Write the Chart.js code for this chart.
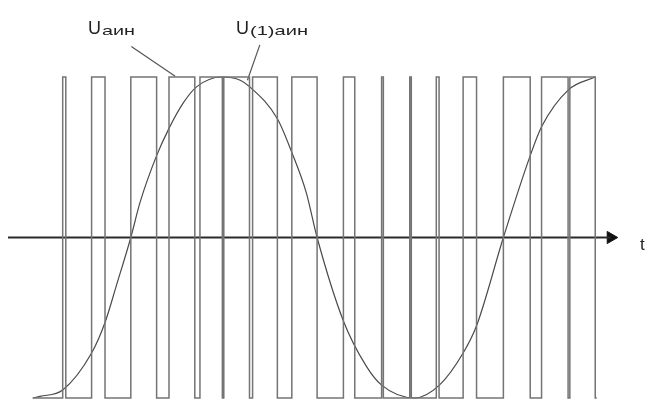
<!DOCTYPE html>
<html>
<head>
    <title>PWM voltage</title>
    <script src="https://cdn.jsdelivr.net/npm/chart.js@4.4.1/dist/chart.umd.min.js"></script>
    <style>
        body { margin: 0; background: #fff; }
    </style>
</head>
<body>
<canvas id="pwmChart" width="646" height="399"></canvas>

<script>
    // x values are phase angle in degrees, y values are relative voltage
    const pwmEdges = [-95, -66, -63, -38, -25, 0, 25, 37, 62, 67, 88.7, 90.1, 115, 118, 142, 156, 180.5,
        206, 217, 243, 244.7, 270.3, 271.8, 296, 298.7, 322, 335, 361, 387, 398, 423.7, 425.4, 450, 451.5];
    const pwmLevels = [-1, 1, -1, 1, -1, 1, -1, 1, -1, 1, -1, 1, -1, 1, -1, 1, -1,
        1, -1, 1, -1, 1, -1, 1, -1, 1, -1, 1, -1, 1, -1, 1, -1, -1];

    const sineAngles = [-95, -88, -66, -38, -25, -14, 0, 9, 25, 37, 51, 64, 88, 106, 115, 142, 156, 170, 180.5,
        206, 228, 243, 275, 299, 322, 335, 361, 387, 398, 424, 450];
    const sineValues = [-1, -0.99, -0.95, -0.72, -0.53, -0.3, 0, 0.22, 0.51, 0.68, 0.84, 0.94, 1, 0.98, 0.94, 0.74, 0.53, 0.28, 0,
        -0.52, -0.8, -0.92, -1, -0.92, -0.72, -0.55, 0, 0.51, 0.69, 0.92, 1];

    const axisAngles = [-119, 465];
    const arrowAngle = 465;

    // pointer lines from the labels to the curves
    const leaderPwmX = [0.5, 43];
    const leaderPwmY = [1.19, 1.005];
    const leaderSineX = [125, 113];
    const leaderSineY = [1.2, 0.98];

    const toPoints = (xs, ys) => xs.map((x, i) => ({x: x, y: ys[i]}));

    const labelPlugin = {
        id: 'labels',
        afterDatasetsDraw(chart) {
            const ctx = chart.ctx;
            ctx.save();
            ctx.fillStyle = '#222';
            ctx.textBaseline = 'alphabetic';

            // main letter, then a wide subscript stretched to the given width
            function subLabel(x, y, main, sub, subWidth) {
                ctx.font = '18px "Liberation Sans", Arial, sans-serif';
                ctx.fillText(main, x, y);
                const w = ctx.measureText(main).width;
                ctx.font = '13px "Liberation Sans", Arial, sans-serif';
                const sw = ctx.measureText(sub).width;
                ctx.save();
                ctx.translate(x + w + 1, y + 1);
                ctx.scale(subWidth / sw, 1);
                ctx.fillText(sub, 0, 0);
                ctx.restore();
            }

            subLabel(88, 34, 'U', 'аин', 33);
            subLabel(236, 34, 'U', '(1)аин', 58);

            ctx.font = '17px "Liberation Sans", Arial, sans-serif';
            ctx.fillText('t', 640, 250);
            ctx.restore();
        }
    };

    const ctx = document.getElementById('pwmChart').getContext('2d');
    const pwmChart = new Chart(ctx, {
        type: 'line',
        data: {
            datasets: [
                {
                    label: 'Uаин',
                    data: toPoints(pwmEdges, pwmLevels),
                    stepped: 'before',
                    borderColor: '#747474',
                    borderWidth: 1.5,
                    pointRadius: 0,
                    clip: false
                },
                {
                    label: 'U(1)аин',
                    data: toPoints(sineAngles, sineValues),
                    cubicInterpolationMode: 'monotone',
                    borderColor: '#4a4a4a',
                    borderWidth: 1.2,
                    pointRadius: 0,
                    clip: false
                },
                {
                    label: 'axis',
                    data: toPoints(axisAngles, [0, 0]),
                    borderColor: '#2a2a2a',
                    borderWidth: 2.2,
                    pointRadius: 0,
                    clip: false
                },
                {
                    label: 'arrow',
                    data: [{x: arrowAngle, y: 0}],
                    showLine: false,
                    pointStyle: 'triangle',
                    rotation: 90,
                    pointRadius: 7,
                    backgroundColor: '#111',
                    borderColor: '#111',
                    borderWidth: 1,
                    clip: false
                },
                {
                    label: 'leader1',
                    data: toPoints(leaderPwmX, leaderPwmY),
                    borderColor: '#555',
                    borderWidth: 1.2,
                    pointRadius: 0,
                    clip: false
                },
                {
                    label: 'leader2',
                    data: toPoints(leaderSineX, leaderSineY),
                    borderColor: '#555',
                    borderWidth: 1.2,
                    pointRadius: 0,
                    clip: false
                }
            ]
        },
        options: {
            responsive: false,
            animation: false,
            layout: {
                autoPadding: false,
                padding: {left: 8, right: 26, top: 77, bottom: 1}
            },
            plugins: {
                legend: {display: false},
                tooltip: {enabled: false}
            },
            scales: {
                x: {type: 'linear', min: -119, max: 474, display: false},
                y: {min: -1, max: 1, display: false}
            }
        },
        plugins: [labelPlugin]
    });
</script>
</body>
</html>
